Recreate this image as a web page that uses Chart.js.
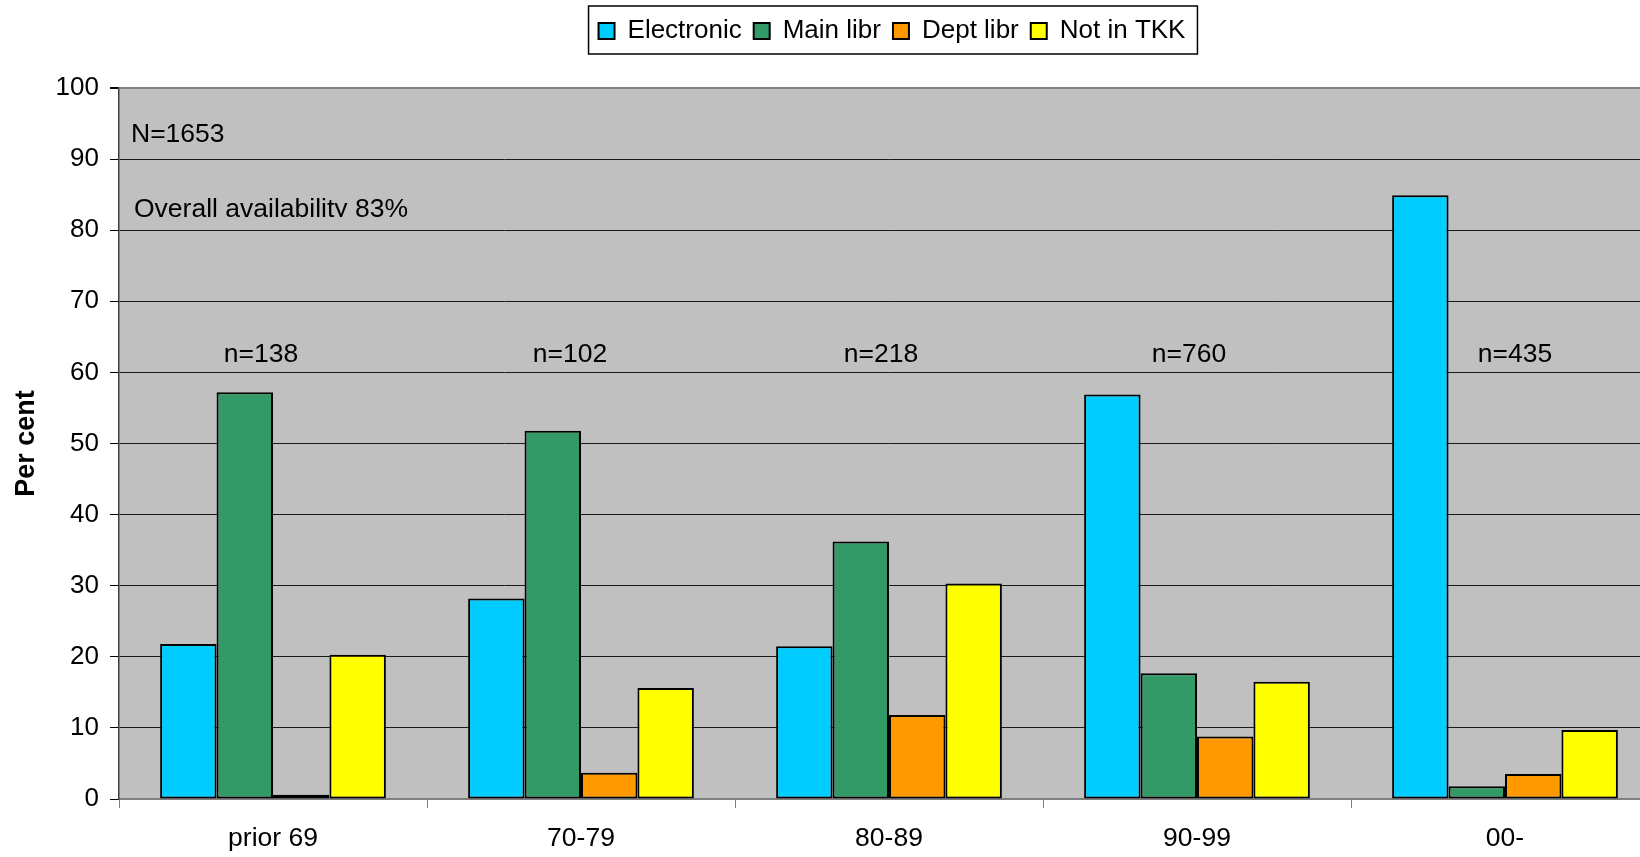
<!DOCTYPE html>
<html>
<head>
<meta charset="utf-8">
<script src="https://cdn.jsdelivr.net/npm/chart.js@4.4.0/dist/chart.umd.min.js"></script>
<style>
  html, body { margin: 0; padding: 0; background: #fff; overflow: hidden; }
  #wrap { width: 1784px; height: 857px; }
</style>
</head>
<body>
<div id="wrap"><canvas id="myChart" width="1784" height="857"></canvas></div>
<script>
const categories = ["prior 69", "70-79", "80-89", "90-99", "00-"];
const electronic = [21.8, 28.2, 21.5, 56.9, 84.9];
const mainLibr = [57.2, 51.8, 36.2, 17.7, 1.8];
const deptLibr = [0.6, 3.7, 11.8, 8.8, 3.5];
const notInTKK = [20.3, 15.6, 30.3, 16.5, 9.7];
const groupSizes = ["n=138", "n=102", "n=218", "n=760", "n=435"];
const notes = ["N=1653", "Overall availability 83%"];

const FONT = "'Liberation Sans', Arial, sans-serif";

// grey plot area, legend frame and the text boxes
const extras = {
  id: "extras",
  afterLayout(chart) {
    // centre the legend over the plot area, not the canvas
    const lg = chart.legend, a = chart.chartArea;
    if (!lg) return;
    const shift = (a.left + a.right) / 2 + 3 - (lg.left + lg.right) / 2;
    lg.left += shift;
    lg.right += shift;
    lg.adjustHitBoxes();
  },
  beforeDraw(chart) {
    const { ctx, chartArea: a } = chart;
    ctx.save();
    ctx.fillStyle = "#c0c0c0";
    ctx.fillRect(a.left, a.top, a.right - a.left, a.bottom - a.top);
    ctx.restore();
  },
  afterDatasetsDraw(chart) {
    const { ctx, chartArea: a, scales } = chart;
    ctx.save();
    ctx.fillStyle = "#000";
    ctx.font = "26.5px " + FONT;
    ctx.textBaseline = "alphabetic";
    ctx.textAlign = "left";
    // text boxes cut off at the baseline, like the original
    const boxes = [[notes[0], a.left + 12, a.top + 54], [notes[1], a.left + 15, a.top + 129]];
    boxes.forEach(([t, x, y]) => {
      ctx.save();
      ctx.beginPath();
      ctx.rect(x - 5, y - 30, 600, 30);
      ctx.clip();
      ctx.fillText(t, x, y);
      ctx.restore();
    });
    ctx.textAlign = "center";
    ctx.textBaseline = "middle";
    const dx = [-12, -11, -8, -8, 10];
    groupSizes.forEach((t, i) => {
      ctx.fillText(t, scales.x.getPixelForValue(i) + dx[i], scales.y.getPixelForValue(62.5));
    });
    ctx.restore();
  },
  afterDraw(chart) {
    const lg = chart.legend;
    if (!lg || !lg.legendHitBoxes.length) return;
    const hb = lg.legendHitBoxes;
    const left = hb[0].left - 10;
    const right = hb[hb.length - 1].left + hb[hb.length - 1].width + 12;
    const ctx = chart.ctx;
    ctx.save();
    ctx.strokeStyle = "#000";
    ctx.lineWidth = 1.5;
    ctx.strokeRect(left, 6, right - left, 48);
    ctx.restore();
  }
};

const ds = (label, data, color) => ({
  label,
  data,
  backgroundColor: color,
  borderColor: "#000",
  borderWidth: 2,
  borderSkipped: false,
  categoryPercentage: 0.733,
  barPercentage: 1
});

window.myBar = new Chart(document.getElementById("myChart"), {
  type: "bar",
  plugins: [extras],
  data: {
    labels: categories,
    datasets: [
      ds("Electronic", electronic, "#00ccff"),
      ds("Main libr", mainLibr, "#339966"),
      ds("Dept libr", deptLibr, "#ff9900"),
      ds("Not in TKK", notInTKK, "#ffff00")
    ]
  },
  options: {
    responsive: false,
    devicePixelRatio: 1,
    animation: false,
    layout: { padding: { top: 6, right: 125, bottom: 0, left: 0 } },
    plugins: {
      tooltip: { enabled: false },
      legend: {
        position: "top",
        labels: {
          color: "#000",
          font: { family: FONT, size: 26 },
          boxWidth: 16,
          boxHeight: 16,
          padding: 12
        }
      },
      // empty title used only as the gap between legend and plot
      title: {
        display: true,
        text: "",
        weight: 500,
        font: { size: 10 },
        padding: { top: 0, bottom: 22 }
      }
    },
    scales: {
      x: {
        afterFit(s) { s.height = 58; },
        grid: {
          offset: true,
          drawOnChartArea: false,
          drawTicks: true,
          tickLength: 9,
          color: "#808080"
        },
        border: { color: "#808080", width: 2 },
        ticks: { color: "#000", font: { family: FONT, size: 26.5 }, padding: 15, maxRotation: 0 }
      },
      y: {
        min: 0,
        max: 100,
        afterFit(s) { s.width = 119; },
        ticks: { stepSize: 10, color: "#000", font: { family: FONT, size: 26 }, padding: 11 },
        grid: {
          color: (c) => (c.tick && c.tick.value === 100 ? "#808080" : "#1a1a1a"),
          lineWidth: (c) => (c.tick && c.tick.value === 100 ? 2 : 1),
          tickLength: 9,
          tickColor: "#000"
        },
        border: { color: "#404040", width: 1.5 },
        title: {
          display: true,
          text: "Per cent",
          color: "#000",
          font: { family: FONT, size: 27, weight: "bold" },
          padding: { top: 10, bottom: 0 }
        }
      }
    }
  }
});
</script>
</body>
</html>
